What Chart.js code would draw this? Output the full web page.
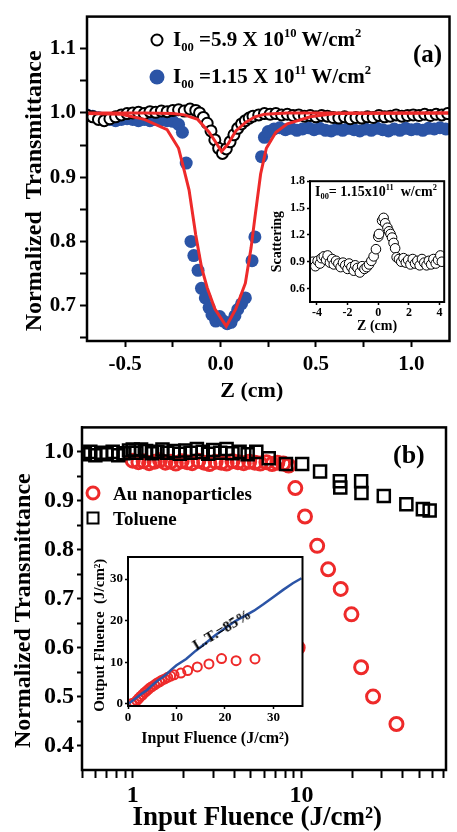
<!DOCTYPE html>
<html>
<head>
<meta charset="utf-8">
<script src="https://cdn.jsdelivr.net/npm/chart.js@4.4.1/dist/chart.umd.min.js"></script>
<style>
  body { margin: 0; background: #fff; }
  #page { position: relative; width: 457px; height: 832px; overflow: hidden; }
  canvas { position: absolute; }
  .txt { position: absolute; font-family: "Liberation Serif", "Times New Roman", serif; font-weight: bold; color: #000; white-space: nowrap; line-height: 1; transform: translateY(-50%); }
  .txt sub { font-size: 0.6em; vertical-align: -0.35em; }
  .txt sup { font-size: 0.6em; vertical-align: 0.75em; }
  .mk { position: absolute; box-sizing: border-box; transform: translate(-50%, -50%); }
</style>
</head>
<body>
<div id="page">
  <canvas id="chartA" width="457" height="410" style="left:0;top:0"></canvas>
  <canvas id="chartB" width="457" height="422" style="left:0;top:410px"></canvas>
  <canvas id="insetA" width="188" height="166" style="left:262px;top:172px"></canvas>
  <canvas id="insetB" width="221" height="203" style="left:88px;top:547px"></canvas>

  <div class="mk" style="left:157px;top:40px;width:13px;height:13px;border:2.5px solid #000;border-radius:50%"></div>
  <div class="txt" style="left:173px;top:40px;font-size:21px">I<sub>00</sub> =5.9 X 10<sup>10</sup> W/cm<sup>2</sup></div>
  <div class="mk" style="left:157px;top:77px;width:15px;height:15px;background:#2b54a6;border-radius:50%"></div>
  <div class="txt" style="left:173px;top:77px;font-size:21px">I<sub>00</sub> =1.15 X 10<sup>11</sup> W/cm<sup>2</sup></div>
  <div class="txt" style="left:413px;top:53px;font-size:25px">(a)</div>
  <div class="txt" style="left:315px;top:193px;font-size:14px">I<sub>00</sub>= 1.15x10<sup>11</sup>&nbsp; w/cm<sup>2</sup></div>

  <div class="mk" style="left:93px;top:493px;width:15px;height:15px;border:3px solid #ee2a2a;border-radius:50%"></div>
  <div class="txt" style="left:113px;top:493px;font-size:19px">Au nanoparticles</div>
  <div class="mk" style="left:93px;top:518px;width:13px;height:13px;border:2.5px solid #000"></div>
  <div class="txt" style="left:113px;top:518px;font-size:19px">Toluene</div>
  <div class="txt" style="left:393px;top:455px;font-size:26px">(b)</div>
  <div class="txt" style="left:222px;top:630px;font-size:15px;transform:translate(-50%,-50%) rotate(-31deg)">L.T.=85%</div>
</div>
<script>
// panel (a): open-aperture z-scan
const zLow = [-0.70, -0.67, -0.64, -0.61, -0.58, -0.55, -0.52, -0.49, -0.46, -0.43, -0.40, -0.37, -0.34, -0.31, -0.28, -0.25, -0.22, -0.19, -0.16, -0.13, -0.11, -0.09, -0.07, -0.05, -0.03, -0.01, 0.01, 0.03, 0.05, 0.07, 0.09, 0.11, 0.13, 0.15, 0.17, 0.20, 0.23, 0.26, 0.29, 0.32, 0.35, 0.38, 0.41, 0.44, 0.47, 0.50, 0.53, 0.56, 0.59, 0.62, 0.65, 0.68, 0.71, 0.74, 0.77, 0.80, 0.83, 0.86, 0.89, 0.92, 0.95, 0.98, 1.01, 1.04, 1.07, 1.10, 1.13, 1.16, 1.19];
const tLow = [0.996, 0.994, 0.990, 0.988, 0.991, 0.994, 0.997, 0.999, 1.000, 1.001, 0.999, 1.002, 1.001, 1.003, 1.002, 1.004, 1.005, 1.003, 1.006, 1.004, 1.000, 0.993, 0.984, 0.972, 0.958, 0.945, 0.937, 0.944, 0.955, 0.966, 0.976, 0.983, 0.988, 0.992, 0.995, 0.997, 0.999, 0.998, 0.999, 0.997, 0.998, 0.996, 0.997, 0.995, 0.996, 0.994, 0.996, 0.995, 0.993, 0.992, 0.994, 0.991, 0.993, 0.992, 0.994, 0.993, 0.996, 0.994, 0.995, 0.997, 0.995, 0.996, 0.997, 0.996, 0.998, 0.996, 0.998, 0.997, 0.999];

const zHigh = [-0.70, -0.67, -0.64, -0.61, -0.58, -0.55, -0.52, -0.49, -0.46, -0.43, -0.40, -0.37, -0.34, -0.31, -0.28, -0.25, -0.22, -0.20, -0.18, -0.155, -0.14, -0.118, -0.10, -0.08, -0.06, -0.045, -0.025, -0.005, 0.015, 0.035, 0.055, 0.075, 0.09, 0.11, 0.13, 0.165, 0.18, 0.215, 0.23, 0.25, 0.28, 0.31, 0.34, 0.37, 0.40, 0.43, 0.46, 0.49, 0.52, 0.55, 0.58, 0.61, 0.64, 0.67, 0.70, 0.73, 0.76, 0.79, 0.82, 0.85, 0.88, 0.91, 0.94, 0.97, 1.00, 1.03, 1.06, 1.09, 1.12, 1.15, 1.18];
const tHigh = [0.997, 0.995, 0.993, 0.991, 0.990, 0.988, 0.990, 0.991, 0.990, 0.988, 0.990, 0.988, 0.990, 0.989, 0.988, 0.987, 0.982, 0.970, 0.922, 0.800, 0.778, 0.755, 0.727, 0.712, 0.697, 0.686, 0.676, 0.683, 0.676, 0.672, 0.674, 0.684, 0.694, 0.703, 0.712, 0.770, 0.807, 0.932, 0.962, 0.971, 0.975, 0.977, 0.974, 0.976, 0.973, 0.975, 0.977, 0.974, 0.976, 0.973, 0.972, 0.975, 0.973, 0.976, 0.974, 0.972, 0.975, 0.973, 0.976, 0.974, 0.972, 0.975, 0.973, 0.976, 0.974, 0.975, 0.973, 0.976, 0.975, 0.977, 0.975];

const zFitLow = [-0.70, -0.40, -0.25, -0.19, -0.12, -0.06, -0.02, 0.005, 0.04, 0.08, 0.13, 0.18, 0.23, 0.35, 1.20];
const tFitLow = [1.000, 1.000, 0.999, 0.997, 0.990, 0.970, 0.952, 0.940, 0.952, 0.972, 0.985, 0.994, 0.998, 1.000, 1.000];

const zFitHigh = [-0.70, -0.52, -0.40, -0.28, -0.22, -0.19, -0.165, -0.13, -0.10, -0.07, -0.03, 0.03, 0.08, 0.13, 0.16, 0.18, 0.21, 0.24, 0.29, 0.35, 0.47, 0.60, 1.20];
const tFitHigh = [0.999, 0.998, 0.990, 0.974, 0.945, 0.910, 0.880, 0.810, 0.760, 0.728, 0.695, 0.668, 0.695, 0.735, 0.790, 0.837, 0.905, 0.945, 0.970, 0.983, 0.994, 0.999, 1.000];

// inset (a): scattering
const zScat = [-4.25, -4.1, -3.95, -3.8, -3.7, -3.55, -3.4, -3.3, -3.15, -3.0, -2.9, -2.75, -2.6, -2.45, -2.3, -2.15, -2.0, -1.9, -1.75, -1.6, -1.5, -1.35, -1.2, -1.05, -0.9, -0.75, -0.6, -0.45, -0.3, -0.15, 0.0, 0.05, 0.25, 0.35, 0.45, 0.6, 0.7, 0.8, 0.9, 1.0, 1.1, 1.2, 1.35, 1.5, 1.65, 1.8, 1.95, 2.1, 2.25, 2.4, 2.55, 2.7, 2.85, 3.0, 3.15, 3.3, 3.45, 3.6, 3.75, 3.9, 4.05, 4.15];
const sScat = [0.90, 0.85, 0.91, 0.88, 0.94, 0.96, 0.92, 0.97, 0.89, 0.93, 0.87, 0.91, 0.88, 0.84, 0.89, 0.86, 0.82, 0.88, 0.84, 0.80, 0.86, 0.83, 0.78, 0.85, 0.82, 0.84, 0.87, 0.91, 0.96, 1.04, 1.18, 1.21, 1.36, 1.39, 1.33, 1.28, 1.24, 1.21, 1.17, 1.11, 1.05, 0.95, 0.93, 0.90, 0.94, 0.89, 0.92, 0.87, 0.93, 0.88, 0.91, 0.86, 0.93, 0.89, 0.86, 0.91, 0.87, 0.93, 0.88, 0.92, 0.97, 0.90];

// panel (b): transmittance vs input fluence
const fTol = [0.52, 0.56, 0.60, 0.65, 0.70, 0.76, 0.82, 0.88, 0.95, 1.0, 1.05, 1.12, 1.2, 1.3, 1.4, 1.5, 1.6, 1.75, 1.9, 2.05, 2.2, 2.4, 2.6, 2.8, 3.0, 3.3, 3.6, 3.9, 4.3, 4.8, 5.4, 6.4, 8.1, 10.1, 12.9, 16.9, 17.0, 22.6, 22.7, 30.8, 41.9, 52.5, 57.6];
const tTol = [0.995, 1.000, 0.993, 0.998, 0.995, 1.000, 0.993, 0.997, 1.003, 1.005, 0.998, 1.005, 1.002, 0.997, 1.000, 1.005, 0.998, 1.002, 0.996, 1.003, 0.998, 1.006, 1.000, 0.996, 1.004, 0.998, 1.006, 0.997, 1.000, 0.995, 1.000, 0.987, 0.975, 0.975, 0.960, 0.940, 0.927, 0.940, 0.916, 0.910, 0.893, 0.883, 0.880];

const fAu = [1.0, 1.08, 1.16, 1.25, 1.35, 1.45, 1.56, 1.68, 1.8, 1.95, 2.1, 2.25, 2.45, 2.65, 2.85, 3.1, 3.35, 3.6, 3.9, 4.2, 4.55, 4.9, 5.3, 5.7, 6.2, 6.7, 7.2, 7.8, 8.4, 9.2, 9.5, 10.5, 12.4, 14.4, 17.1, 19.8, 22.6, 26.6, 36.6];
const tAu = [0.982, 0.979, 0.981, 0.977, 0.980, 0.983, 0.978, 0.980, 0.976, 0.981, 0.979, 0.977, 0.982, 0.978, 0.975, 0.980, 0.978, 0.976, 0.981, 0.979, 0.977, 0.980, 0.978, 0.976, 0.979, 0.975, 0.978, 0.976, 0.972, 0.926, 0.600, 0.868, 0.808, 0.760, 0.720, 0.668, 0.560, 0.500, 0.444];

// inset (b): output vs input fluence
const fInLine = [0, 1, 2, 3, 4, 5, 6, 7, 8, 9, 10, 12, 14, 16, 18, 20, 22, 24, 26, 28, 30, 32, 34, 35.8];
const fOutLine = [0, 0.8, 1.7, 2.6, 3.4, 4.5, 5.5, 6.3, 7.2, 8.3, 9.3, 10.8, 12.8, 14.6, 16.5, 18.2, 19.8, 21.1, 22.4, 24.0, 25.7, 27.4, 29.0, 30.2];
const fInAu = [0.8, 1.3, 1.8, 2.2, 2.6, 3.0, 3.4, 3.8, 4.2, 4.6, 5.0, 5.5, 6.0, 6.5, 7.0, 7.6, 8.2, 8.8, 9.5, 10.9, 12.3, 14.3, 16.7, 19.3, 22.3, 26.2];
const fOutAu = [0.1, 0.3, 0.8, 1.3, 1.8, 2.2, 2.7, 3.1, 3.5, 3.9, 4.2, 4.6, 5.0, 5.3, 5.7, 6.0, 6.4, 6.7, 7.0, 7.4, 8.0, 8.9, 9.6, 10.9, 10.4, 10.8];

// tick positions and labelled ticks
const ticksAX = [-0.5, -0.25, 0, 0.25, 0.5, 0.75, 1.0];
const labelsAX = [-0.5, 0, 0.5, 1.0];
const ticksAY = [0.65, 0.7, 0.75, 0.8, 0.85, 0.9, 0.95, 1.0, 1.05, 1.1];
const labelsAY = [0.7, 0.8, 0.9, 1.0, 1.1];
const ticksIAX = [-4, -2, 0, 2, 4];
const ticksIAY = [0.6, 0.9, 1.2, 1.5, 1.8];
const ticksBX = [0.5, 0.6, 0.7, 0.8, 0.9, 1, 2, 3, 4, 5, 6, 7, 8, 9, 10, 20, 30, 40, 50, 60, 70];
const labelsBX = [1, 10];
const ticksBY = [0.4, 0.45, 0.5, 0.55, 0.6, 0.65, 0.7, 0.75, 0.8, 0.85, 0.9, 0.95, 1.0];
const labelsBY = [0.4, 0.5, 0.6, 0.7, 0.8, 0.9, 1.0];
const ticksIB = [0, 10, 20, 30];

const blue = "#2b54a6";
const red = "#ee2a2a";
const serif = "'Liberation Serif', 'Times New Roman', serif";

function pts(xs, ys) {
  return xs.map((x, i) => ({ x: x, y: ys[i] }));
}

function showOnly(labeled, fmt) {
  return function (v) {
    return labeled.some((l) => Math.abs(l - v) < 1e-6) ? fmt(v) : "";
  };
}

const oneDec = (v) => v.toFixed(1);
const plain = (v) => String(v);

// frame round the plot area, optional white fill for the insets
const framePlugin = {
  id: "frame",
  beforeDraw(chart, args, opts) {
    if (!opts.fill) return;
    const a = chart.chartArea;
    chart.ctx.save();
    chart.ctx.fillStyle = "#fff";
    chart.ctx.fillRect(a.left, a.top, a.right - a.left, a.bottom - a.top);
    chart.ctx.restore();
  },
  afterDraw(chart, args, opts) {
    const a = chart.chartArea;
    const ctx = chart.ctx;
    ctx.save();
    ctx.strokeStyle = "#000";
    ctx.lineWidth = opts.width;
    ctx.strokeRect(a.left, a.top, a.right - a.left, a.bottom - a.top);
    ctx.restore();
  },
};

function makeAxis(o) {
  return {
    type: o.type || "linear",
    position: o.horizontal ? "bottom" : "left",
    min: o.min,
    max: o.max,
    afterBuildTicks: function (scale) {
      scale.ticks = o.ticks.map((v) => ({ value: v }));
    },
    afterFit: function (scale) {
      if (o.horizontal) scale.height = o.fit;
      else scale.width = o.fit;
    },
    grid: {
      drawOnChartArea: false,
      drawTicks: true,
      tickLength: o.tickLen,
      tickColor: "#000",
      tickWidth: o.lw,
    },
    border: { display: true, color: "#000", width: o.lw },
    ticks: {
      autoSkip: false,
      maxRotation: 0,
      minRotation: 0,
      padding: o.pad,
      color: "#000",
      font: { family: serif, weight: "bold", size: o.size },
      callback: showOnly(o.labels || o.ticks, o.fmt),
    },
    title: {
      display: true,
      text: o.title,
      color: "#000",
      font: { family: serif, weight: "bold", size: o.titleSize, lineHeight: o.titleLH || 1.2 },
      padding: { top: o.titlePad, bottom: o.titlePad },
    },
  };
}

function makeChart(id, datasets, xAxis, yAxis, padding, frame) {
  return new Chart(document.getElementById(id), {
    type: "scatter",
    data: { datasets: datasets },
    plugins: [framePlugin],
    options: {
      responsive: false,
      animation: false,
      events: [],
      layout: { padding: padding },
      scales: { x: xAxis, y: yAxis },
      plugins: { legend: { display: false }, tooltip: { enabled: false }, frame: frame },
    },
  });
}

makeChart(
  "chartA",
  [
    { data: pts(zFitHigh, tFitHigh), showLine: true, pointRadius: 0, borderColor: red, borderWidth: 3, tension: 0 },
    { data: pts(zFitLow, tFitLow), showLine: true, pointRadius: 0, borderColor: red, borderWidth: 3, tension: 0 },
    { data: pts(zLow, tLow), pointRadius: 5.5, borderWidth: 2, borderColor: "#000", backgroundColor: "#fff" },
    { data: pts(zHigh, tHigh), pointRadius: 6.5, borderWidth: 0, borderColor: blue, backgroundColor: blue },
  ],
  makeAxis({ horizontal: true, min: -0.7, max: 1.2, ticks: ticksAX, labels: labelsAX, fmt: oneDec, size: 21, tickLen: 6, pad: 5, lw: 2, fit: 69,
    title: "Z (cm)      ", titleSize: 22, titlePad: 5 }),
  makeAxis({ min: 0.645, max: 1.15, ticks: ticksAY, labels: labelsAY, fmt: oneDec, size: 21, tickLen: 7, pad: 4, lw: 2, fit: 87,
    title: "Normalized  Transmittance    ", titleSize: 24, titlePad: 20 }),
  { top: 13, right: 1, left: 0, bottom: 0 },
  { width: 2.5, fill: false }
);

makeChart(
  "insetA",
  [{ data: pts(zScat, sScat), pointRadius: 4.8, borderWidth: 1, borderColor: "#000", backgroundColor: "#fff" }],
  makeAxis({ horizontal: true, min: -4.45, max: 4.3, ticks: ticksIAX, fmt: plain, size: 12, tickLen: 3, pad: 1, lw: 1.5, fit: 36,
    title: "Z (cm)", titleSize: 14, titlePad: 3 }),
  makeAxis({ min: 0.45, max: 1.8, ticks: ticksIAY, fmt: oneDec, size: 12, tickLen: 3, pad: 2, lw: 1.5, fit: 48,
    title: "Scattering", titleSize: 14, titlePad: 7 }),
  { top: 8, right: 3, left: 0, bottom: 0 },
  { width: 2, fill: true }
);

makeChart(
  "chartB",
  [
    { data: pts(fTol, tTol), pointStyle: "rect", pointRadius: 8.5, borderWidth: 2.5, borderColor: "#000", backgroundColor: "rgba(0,0,0,0)" },
    { data: pts(fAu, tAu), pointRadius: 6.5, borderWidth: 3, borderColor: red, backgroundColor: "rgba(0,0,0,0)" },
  ],
  makeAxis({ type: "logarithmic", horizontal: true, min: 0.5, max: 72, ticks: ticksBX, labels: labelsBX, fmt: plain, size: 24, tickLen: 8, pad: 3, lw: 2, fit: 62,
    title: "Input Fluence (J/cm²)  ", titleSize: 27, titleLH: 1, titlePad: 0 }),
  makeAxis({ min: 0.35, max: 1.05, ticks: ticksBY, labels: labelsBY, fmt: oneDec, size: 24, tickLen: 5, pad: 3, lw: 2, fit: 82,
    title: "Normalized Transmittance    ", titleSize: 24, titlePad: 9 }),
  { top: 15, right: 4, left: 0, bottom: 0 },
  { width: 2.5, fill: false }
);

makeChart(
  "insetB",
  [
    { data: pts(fInLine, fOutLine), showLine: true, pointRadius: 0, borderColor: blue, borderWidth: 2.5, tension: 0 },
    { data: pts(fInAu, fOutAu), pointRadius: 4.5, borderWidth: 2, borderColor: red, backgroundColor: "rgba(0,0,0,0)" },
  ],
  makeAxis({ horizontal: true, min: 0, max: 36, ticks: ticksIB, fmt: plain, size: 13, tickLen: 3, pad: 1, lw: 1.5, fit: 44,
    title: "Input Fluence (J/cm²)", titleSize: 16, titlePad: 2 }),
  makeAxis({ min: -0.5, max: 35.3, ticks: ticksIB, fmt: plain, size: 13, tickLen: 3, pad: 2, lw: 1.5, fit: 40,
    title: "Output Fluence  (J/cm²)  ", titleSize: 15, titlePad: 3 }),
  { top: 10, right: 2, left: 0, bottom: 0 },
  { width: 2, fill: true }
);
</script>
</body>
</html>
